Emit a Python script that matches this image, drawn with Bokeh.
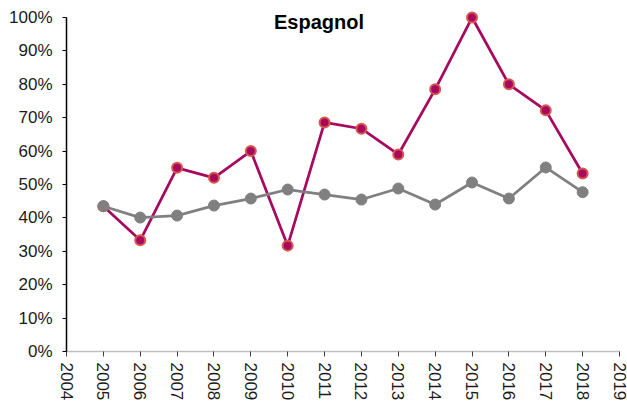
import numpy as np
from bokeh.plotting import figure
from bokeh.models import Range1d, FixedTicker, NumeralTickFormatter, Label
from bokeh.embed import file_html
from bokeh.resources import INLINE

years = [2005, 2006, 2007, 2008, 2009, 2010, 2011, 2012, 2013, 2014, 2015, 2016, 2017, 2018]
espagnol = [0.435, 0.333, 0.55, 0.52, 0.60, 0.317, 0.686, 0.667, 0.59, 0.785, 1.00, 0.80, 0.722, 0.533]
moyenne = [0.435, 0.401, 0.407, 0.437, 0.458, 0.485, 0.47, 0.455, 0.488, 0.44, 0.506, 0.458, 0.551, 0.477]
x_ticks = list(range(2004, 2020))
y_ticks = [0, 0.1, 0.2, 0.3, 0.4, 0.5, 0.6, 0.7, 0.8, 0.9, 1.0]
title = "Espagnol"

FONT = "Liberation Sans"

p = figure(width=627, height=405, output_backend="svg", toolbar_location=None,
           x_range=Range1d(2004, 2019), y_range=Range1d(0, 1.036),
           min_border_left=66, min_border_right=8, min_border_top=5, min_border_bottom=54)
p.outline_line_color = None
p.xgrid.visible = False
p.ygrid.visible = False

# Y axis
p.yaxis.bounds = (0, 1)
p.yaxis.ticker = FixedTicker(ticks=y_ticks)
p.yaxis.formatter = NumeralTickFormatter(format="0%")
p.yaxis.axis_line_color = "black"
p.yaxis.axis_line_width = 1.5
p.yaxis.major_tick_line_color = "black"
p.yaxis.major_tick_out = 4
p.yaxis.major_tick_in = 0
p.yaxis.minor_tick_line_color = None
p.yaxis.major_label_text_font = FONT
p.yaxis.major_label_text_font_size = "17px"
p.yaxis.major_label_text_color = "#1a1a1a"
p.yaxis.major_label_standoff = 10

# X axis
p.xaxis.ticker = FixedTicker(ticks=x_ticks)
p.xaxis.axis_line_color = "#bfbfbf"
p.xaxis.axis_line_width = 1.5
p.xaxis.major_tick_line_color = "#404040"
p.xaxis.major_tick_out = 5
p.xaxis.major_tick_in = 0
p.xaxis.minor_tick_line_color = None
p.xaxis.major_label_orientation = "vertical"
p.xaxis.major_label_text_font = FONT
p.xaxis.major_label_text_font_size = "17px"
p.xaxis.major_label_text_color = "#1a1a1a"
p.xaxis.major_label_standoff = 6

magenta = "#a6095d"
p.line(years, espagnol, line_color=magenta, line_width=2.75)
p.scatter(years, espagnol, size=10, fill_color=magenta, line_color="#d9574f", line_width=2)

grey = "#808080"
p.line(years, moyenne, line_color=grey, line_width=2.75)
p.scatter(years, moyenne, size=11, fill_color=grey, line_color=grey, line_width=1)

p.add_layout(Label(x=2010.85, y=0.988, text=title, text_font=FONT, text_font_style="bold",
                   text_font_size="20px", text_align="center", text_baseline="middle",
                   text_color="black"))

open("out.html", "w").write(file_html(p, INLINE))
